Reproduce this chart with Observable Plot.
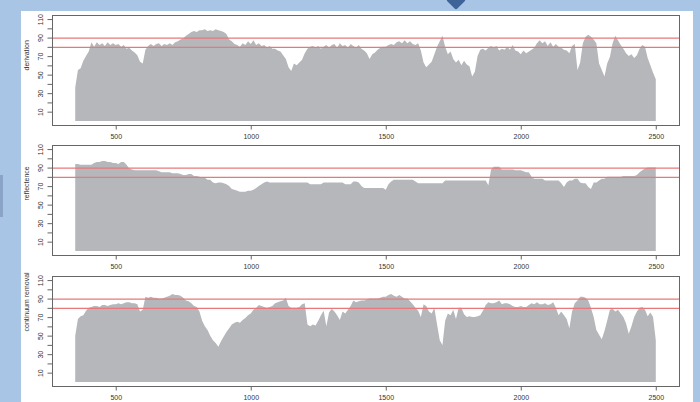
<!DOCTYPE html>
<html>
<head>
<meta charset="utf-8">
<script src="https://cdn.jsdelivr.net/npm/d3@7"></script>
<script src="https://cdn.jsdelivr.net/npm/@observablehq/plot@0.6"></script>
<style>
  html, body { margin: 0; padding: 0; }
  #page { position: relative; width: 700px; height: 402px; overflow: hidden; background: #a9c5e6; }
  #sheet { position: absolute; left: 21px; top: 11px; width: 672px; height: 400px; background: #fff; }
  #marker { position: absolute; left: 449px; top: -7px; width: 14px; height: 14px; background: #3d6399; transform: rotate(45deg); border-radius: 2px; }
  #tab { position: absolute; left: 0; top: 175px; width: 3px; height: 42px; background: #8aa4c8; }
  .panel { position: absolute; left: 0; }
  .panel svg { overflow: visible; }
</style>
</head>
<body>
<div id="page">
  <div id="sheet"></div>
  <div id="marker"></div>
  <div id="tab"></div>
  <div class="panel" id="p1" style="top:0px"></div>
  <div class="panel" id="p2" style="top:130px"></div>
  <div class="panel" id="p3" style="top:261px"></div>
</div>
<script>
// Spectral sampling grid (nm)
const wavelength = d3.range(350, 2501, 10);

// First-derivation spectrum
const derivation = [
  36, 55, 57, 65, 70, 75, 85, 80, 85, 82,
  84, 81, 85, 82, 84, 82, 83, 80, 82, 78,
  79, 76, 74, 71, 64, 62, 77, 81, 83, 81,
  83, 84, 81, 83, 82, 84, 82, 85, 86, 88,
  89, 92, 94, 96, 97, 96, 98, 98, 99, 97,
  98, 97, 99, 98, 97, 96, 94, 88, 86, 83,
  82, 80, 84, 82, 86, 83, 87, 82, 84, 81,
  82, 79, 81, 78, 78, 76, 75, 71, 67, 58,
  54, 62, 60, 63, 66, 73, 78, 80, 81, 79,
  81, 78, 80, 82, 79, 82, 83, 79, 84, 81,
  82, 79, 83, 81, 79, 82, 78, 76, 73, 67,
  72, 74, 77, 79, 80, 80, 82, 83, 82, 85,
  86, 84, 87, 84, 86, 83, 82, 84, 76, 63,
  58, 61, 64, 72, 80, 86, 92, 80, 72, 75,
  67, 63, 66, 60, 65, 61, 59, 48, 53, 70,
  77, 78, 76, 79, 81, 79, 81, 76, 78, 77,
  80, 77, 82, 76, 75, 72, 76, 73, 75, 77,
  79, 84, 87, 84, 86, 81, 85, 80, 83, 80,
  79, 77, 76, 73, 81, 83, 55, 63, 84, 91,
  93, 91, 88, 84, 62, 55, 48, 62, 69, 84,
  92, 87, 82, 78, 73, 70, 72, 68, 71, 78,
  82, 80, 68, 60, 52, 45
];

// Reflectance spectrum
const reflectence = [
  94, 94, 93, 93, 93, 93, 93, 95, 96, 96,
  97, 97, 96, 96, 95, 95, 94, 96, 96, 93,
  89, 88, 87, 87, 87, 87, 87, 87, 87, 87,
  87, 86, 85, 85, 85, 85, 84, 84, 84, 83,
  82, 82, 83, 83, 81, 81, 80, 79, 79, 77,
  77, 74, 73, 74, 74, 73, 72, 70, 67, 66,
  65, 64, 64, 64, 65, 65, 66, 68, 70, 72,
  74, 75, 74, 74, 74, 74, 74, 74, 74, 74,
  74, 74, 74, 74, 74, 74, 74, 72, 72, 72,
  72, 72, 74, 74, 74, 74, 74, 74, 74, 74,
  72, 72, 72, 75, 75, 74, 70, 68, 68, 68,
  68, 68, 68, 68, 68, 66, 72, 75, 77, 77,
  77, 77, 77, 77, 77, 77, 75, 73, 73, 73,
  73, 73, 73, 73, 73, 73, 73, 76, 76, 76,
  76, 76, 76, 76, 76, 76, 76, 76, 76, 76,
  76, 76, 76, 71, 88, 91, 91, 91, 88, 88,
  88, 88, 88, 87, 87, 87, 86, 85, 85, 80,
  78, 78, 78, 78, 76, 76, 76, 76, 76, 76,
  73, 69, 74, 76, 76, 78, 78, 74, 73, 73,
  69, 67, 74, 74, 76, 78, 78, 80, 80, 80,
  80, 80, 80, 81, 81, 81, 81, 81, 82, 85,
  87, 89, 90, 90, 90, 90
];

// Continuum-removed spectrum
const continuumRemoval = [
  50, 68, 71, 72, 77, 80, 81, 82, 82, 81,
  83, 83, 82, 83, 84, 84, 85, 84, 85, 86,
  86, 85, 85, 84, 76, 78, 92, 91, 92, 91,
  91, 90, 90, 91, 92, 93, 95, 94, 94, 93,
  91, 88, 87, 85, 82, 81, 76, 66, 60, 56,
  50, 45, 42, 38, 44, 49, 54, 58, 62, 64,
  65, 64, 67, 69, 72, 74, 78, 80, 83, 82,
  81, 80, 81, 82, 85, 86, 87, 88, 91, 82,
  80, 80, 80, 81, 84, 85, 62, 60, 62, 61,
  66, 72, 77, 60, 75, 79, 76, 72, 67, 76,
  74, 78, 82, 88, 86, 87, 88, 88, 89, 90,
  90, 90, 90, 91, 92, 92, 94, 95, 93, 92,
  94, 92, 90, 90, 87, 84, 80, 77, 70, 84,
  82, 76, 74, 80, 62, 45, 40, 66, 74, 72,
  78, 68, 80, 80, 73, 70, 71, 70, 70, 71,
  72, 77, 83, 86, 85, 85, 86, 88, 84, 85,
  85, 84, 82, 81, 81, 82, 81, 81, 83, 85,
  84, 86, 84, 84, 85, 83, 84, 86, 80, 72,
  76, 72, 68, 58, 76, 85, 88, 92, 92, 91,
  88, 80, 70, 56, 51, 46, 55, 66, 78, 79,
  76, 78, 74, 70, 63, 52, 60, 70, 76, 80,
  81, 78, 71, 75, 70, 45
];

// Axis ticks and reference levels
const xTicks = [500, 1000, 1500, 2000, 2500];
const yTicks = [10, 20, 30, 40, 50, 60, 70, 80, 90, 100, 110];
const yTickLabels = [10, 30, 50, 70, 90, 110];
const thresholds = [80, 90];

function panel(values, title) {
  const rows = wavelength.map((w, i) => ({w, v: values[i]}));
  return Plot.plot({
    width: 700,
    height: 145,
    marginLeft: 52,
    marginRight: 21,
    marginTop: 15,
    marginBottom: 20,
    x: {domain: [264, 2586]},
    y: {domain: [-4.4, 114.4]},
    style: {
      fontFamily: "'Liberation Sans', Arial, sans-serif",
      fontSize: "7px",
      color: "#333",
      background: "transparent",
      overflow: "visible"
    },
    marks: [
      Plot.areaY(rows, {x: "w", y: "v", fill: "#b5b7ba"}),
      Plot.ruleY(thresholds, {stroke: "#e8797a", strokeWidth: 1.2}),
      Plot.frame({stroke: "#666"}),
      Plot.axisX({ticks: xTicks, tickSize: 4.5, tickPadding: 4, tickFormat: d => String(d), label: null, stroke: "#666"}),
      Plot.axisY({
        ticks: yTicks, tickSize: 4.5, tickPadding: 5, tickRotate: -90,
        tickFormat: d => (yTickLabels.includes(d) ? String(d) : ""),
        label: null, stroke: "#666"
      }),
      Plot.text([title], {frameAnchor: "left", dx: -26, rotate: -90, fill: "#333"})
    ]
  });
}

document.getElementById("p1").append(panel(derivation, "derivation"));
document.getElementById("p2").append(panel(reflectence, "reflectence"));
document.getElementById("p3").append(panel(continuumRemoval, "continuum removal"));
</script>
</body>
</html>
